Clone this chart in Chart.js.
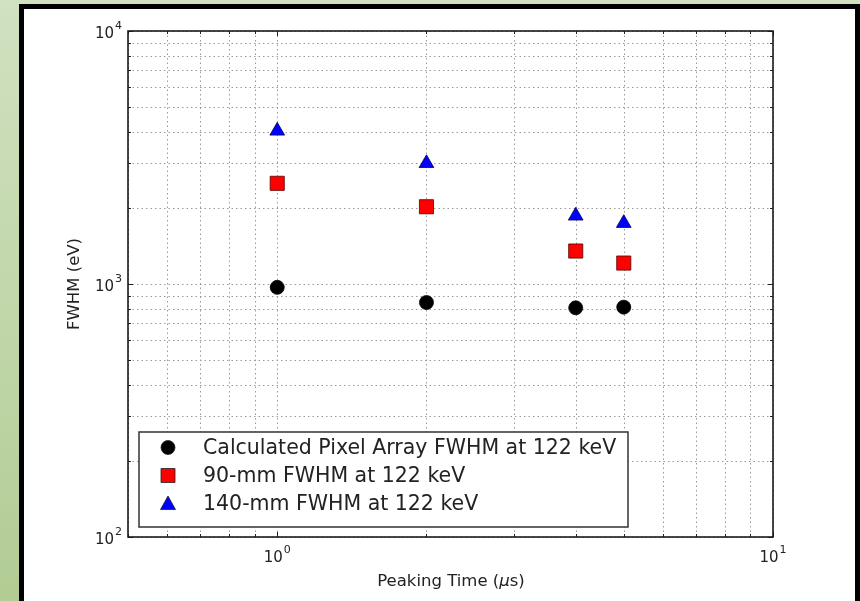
<!DOCTYPE html>
<html>
<head>
<meta charset="utf-8">
<script src="https://cdn.jsdelivr.net/npm/chart.js@4.4.1/dist/chart.umd.min.js"></script>
<style>
  html, body { margin: 0; padding: 0; }
  body {
    width: 860px; height: 601px; overflow: hidden; position: relative;
    background: linear-gradient(to bottom, #d1e1c1, #b2cc94);
  }
  #frame {
    position: absolute; left: 19px; top: 4px; width: 831px; height: 620px;
    border: 5px solid #000; background: #fff;
  }
  #wrap { position: absolute; left: 0; top: 0; width: 860px; height: 601px; }
</style>
</head>
<body>
<div id="frame"></div>
<div id="wrap"><canvas id="fwhm-chart" width="860" height="601"></canvas></div>
<script>
// peaking times (us)
const peakingTimes = [1, 2, 4, 5];
// FWHM in eV
const pixelArrayFwhm = [970, 845, 805, 810];
const fwhm90mm = [2500, 2020, 1350, 1210];
const fwhm140mm = [4030, 3000, 1860, 1740];

const seriesLabels = [
  'Calculated Pixel Array FWHM at 122 keV',
  '90-mm FWHM at 122 keV',
  '140-mm FWHM at 122 keV'
];

const xGridValues = [0.5, 0.6, 0.7, 0.8, 0.9, 1, 2, 3, 4, 5, 6, 7, 8, 9, 10];
const yGridValues = [100, 200, 300, 400, 500, 600, 700, 800, 900,
  1000, 2000, 3000, 4000, 5000, 6000, 7000, 8000, 9000, 10000];
const xMajorTicks = [{ v: 1, exp: '0' }, { v: 10, exp: '1' }];
const yMajorTicks = [{ v: 100, exp: '2' }, { v: 1000, exp: '3' }, { v: 10000, exp: '4' }];

const FONT = '"DejaVu Sans", "Bitstream Vera Sans", sans-serif';

const toPoints = ys => peakingTimes.map((x, i) => ({ x, y: ys[i] }));

const isMajor = v => Math.abs(Math.log10(v) - Math.round(Math.log10(v))) < 1e-9;

function drawMarker(ctx, style, x, y, fill) {
  ctx.save();
  ctx.fillStyle = fill;
  ctx.strokeStyle = '#222';
  ctx.lineWidth = 0.8;
  ctx.beginPath();
  if (style === 'circle') {
    ctx.arc(x, y, 7, 0, Math.PI * 2);
  } else if (style === 'rect') {
    ctx.rect(x - 7, y - 7, 14, 14);
  } else {
    ctx.moveTo(x, y - 7.5);
    ctx.lineTo(x - 7.5, y + 6);
    ctx.lineTo(x + 7.5, y + 6);
    ctx.closePath();
  }
  ctx.fill();
  ctx.stroke();
  ctx.restore();
}

function powerLabel(ctx, exp, x, y, align) {
  // "10" with superscript exponent
  ctx.font = '15px ' + FONT;
  const base = ctx.measureText('10').width;
  ctx.font = '11px ' + FONT;
  const sup = ctx.measureText(exp).width;
  const total = base + sup + 1;
  let left = x;
  if (align === 'center') left = x - total / 2;
  if (align === 'right') left = x - total;
  ctx.fillStyle = '#222';
  ctx.textAlign = 'left';
  ctx.textBaseline = 'middle';
  ctx.font = '15px ' + FONT;
  ctx.fillText('10', left, y);
  ctx.font = '11px ' + FONT;
  ctx.fillText(exp, left + base + 1, y - 8);
}

// x title with an italic mu, like matplotlib mathtext
function xTitle(ctx, cx, cy) {
  const parts = [
    { t: 'Peaking Time (', f: '16.5px ' + FONT },
    { t: '\u03bc', f: 'italic 16.5px ' + FONT },
    { t: 's)', f: '16.5px ' + FONT }
  ];
  const widths = parts.map(p => { ctx.font = p.f; return ctx.measureText(p.t).width; });
  let left = cx - widths.reduce((s, w) => s + w, 0) / 2;
  ctx.textAlign = 'left';
  parts.forEach((p, i) => {
    ctx.font = p.f;
    ctx.fillText(p.t, left, cy);
    left += widths[i];
  });
}

const gridPlugin = {
  id: 'mplGrid',
  beforeDatasetsDraw(chart) {
    const { ctx, chartArea: a, scales: { x, y } } = chart;
    ctx.save();
    ctx.strokeStyle = '#9a9a9a';
    ctx.lineWidth = 1;
    ctx.setLineDash([1.5, 3]);
    xGridValues.forEach(v => {
      const px = Math.round(x.getPixelForValue(v)) + 0.5;
      ctx.beginPath(); ctx.moveTo(px, a.top); ctx.lineTo(px, a.bottom); ctx.stroke();
    });
    yGridValues.forEach(v => {
      const py = Math.round(y.getPixelForValue(v)) + 0.5;
      ctx.beginPath(); ctx.moveTo(a.left, py); ctx.lineTo(a.right, py); ctx.stroke();
    });
    ctx.restore();
  },
  afterDatasetsDraw(chart) {
    const { ctx, chartArea: a, scales: { x, y } } = chart;
    ctx.save();
    // inward ticks on all four sides
    ctx.strokeStyle = '#222';
    ctx.lineWidth = 1;
    xGridValues.forEach(v => {
      const px = Math.round(x.getPixelForValue(v)) + 0.5;
      const len = isMajor(v) ? 5 : 3;
      ctx.beginPath();
      ctx.moveTo(px, a.bottom); ctx.lineTo(px, a.bottom - len);
      ctx.moveTo(px, a.top); ctx.lineTo(px, a.top + len);
      ctx.stroke();
    });
    yGridValues.forEach(v => {
      const py = Math.round(y.getPixelForValue(v)) + 0.5;
      const len = isMajor(v) ? 5 : 3;
      ctx.beginPath();
      ctx.moveTo(a.left, py); ctx.lineTo(a.left + len, py);
      ctx.moveTo(a.right, py); ctx.lineTo(a.right - len, py);
      ctx.stroke();
    });
    // axes box
    ctx.lineWidth = 1.6;
    ctx.strokeStyle = '#1a1a1a';
    ctx.strokeRect(a.left, a.top, a.right - a.left, a.bottom - a.top);

    // tick labels
    xMajorTicks.forEach(t => powerLabel(ctx, t.exp, x.getPixelForValue(t.v), a.bottom + 21, 'center'));
    yMajorTicks.forEach(t => powerLabel(ctx, t.exp, a.left - 6, y.getPixelForValue(t.v) + 3, 'right'));

    // axis titles
    ctx.fillStyle = '#222';
    ctx.textBaseline = 'middle';
    xTitle(ctx, 451, 582);
    ctx.font = '16.5px ' + FONT;
    ctx.textAlign = 'center';
    ctx.save();
    ctx.translate(75, 284);
    ctx.rotate(-Math.PI / 2);
    ctx.fillText('FWHM (eV)', 0, 0);
    ctx.restore();

    // legend box (lower left)
    const lx = 139, ly = 432, lw = 489, lh = 95;
    ctx.fillStyle = '#fff';
    ctx.fillRect(lx, ly, lw, lh);
    ctx.lineWidth = 1.5;
    ctx.strokeStyle = '#333';
    ctx.strokeRect(lx, ly, lw, lh);
    ctx.font = '20.5px ' + FONT;
    ctx.textAlign = 'left';
    chart.data.datasets.forEach((ds, i) => {
      const rowY = ly + 15.5 + i * 28;
      drawMarker(ctx, ds.pointStyle, 168, rowY, ds.backgroundColor);
      ctx.fillStyle = '#222';
      ctx.fillText(ds.label, 203, rowY + 1);
    });
    ctx.restore();
  }
};

new Chart(document.getElementById('fwhm-chart'), {
  type: 'scatter',
  data: {
    datasets: [
      {
        label: seriesLabels[0],
        data: toPoints(pixelArrayFwhm),
        pointStyle: 'circle',
        pointRadius: 7,
        backgroundColor: '#000000',
        borderColor: '#000000',
        borderWidth: 0.8
      },
      {
        label: seriesLabels[1],
        data: toPoints(fwhm90mm),
        pointStyle: 'rect',
        pointRadius: 10,
        backgroundColor: '#ff0000',
        borderColor: '#5a0000',
        borderWidth: 0.8
      },
      {
        label: seriesLabels[2],
        data: toPoints(fwhm140mm),
        pointStyle: 'triangle',
        pointRadius: 8.5,
        backgroundColor: '#0000ff',
        borderColor: '#00005a',
        borderWidth: 0.8
      }
    ]
  },
  options: {
    responsive: false,
    animation: false,
    devicePixelRatio: 1,
    layout: { autoPadding: false, padding: { left: 128, right: 87, top: 31, bottom: 64 } },
    plugins: { legend: { display: false }, tooltip: { enabled: false } },
    scales: {
      x: {
        type: 'logarithmic', min: 0.5, max: 10,
        ticks: { display: false },
        grid: { display: false },
        border: { display: false },
        afterFit: s => { s.height = 0; }
      },
      y: {
        type: 'logarithmic', min: 100, max: 10000,
        ticks: { display: false },
        grid: { display: false },
        border: { display: false },
        afterFit: s => { s.width = 0; }
      }
    }
  },
  plugins: [gridPlugin]
});
</script>
</body>
</html>
